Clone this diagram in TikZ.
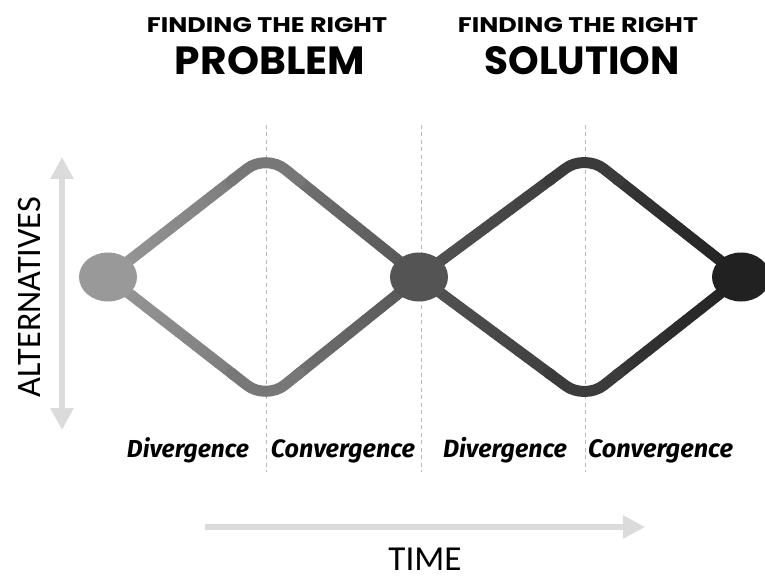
\documentclass[tikz,border=0pt]{standalone}
\usepackage{fontspec}
\setmainfont{Carlito}
\newfontfamily\headfont{Poppins}
\newfontfamily\labfont{Fira Sans}
\usetikzlibrary{calc,arrows.meta,shapes.geometric}
\pgfdeclarelayer{bg}
\pgfsetlayers{bg,main}
\begin{document}
\begin{tikzpicture}[x=1pt,y=-1pt,
  flow/.style={line width=11pt,line cap=round,line join=round},
  guide/.style={draw=black!28,line width=0.9pt,dash pattern=on 4pt off 3.5pt},
  axis/.style={draw=black!14,line width=6.5pt,-{Triangle[width=22pt,length=22pt]}},
  dot/.style={ellipse,minimum width=58pt,minimum height=49pt,inner sep=0pt},
  txt/.style={inner sep=0pt,anchor=base},
]
\useasboundingbox (0,0) rectangle (765,577);

% nodes
\node[dot,fill=black!40] (n1) at (108,277) {};
\node[dot,fill=black!67] (n2) at (419,277) {};
\node[dot,fill=black!87] (n3) at (741,277) {};
\coordinate (t1) at (266,154);
\coordinate (b1) at (266,400);
\coordinate (t2) at (585,154);
\coordinate (b2) at (585,400);

% guides and axes
\coordinate (g1a) at (266,125); \coordinate (g1b) at (266,472);
\coordinate (g2a) at (421,125); \coordinate (g2b) at (421,472);
\coordinate (g3a) at (585,125); \coordinate (g3b) at (585,472);
\coordinate (vA) at (62,293);
\coordinate (vT) at (62,157);
\coordinate (vB) at (62,430);
\coordinate (hA) at (205,527);
\coordinate (hB) at (645,527);
\begin{pgfonlayer}{bg}
\fill[white] (0,0) rectangle (765,577);
\draw[guide] (g1a) -- (g1b);
\draw[guide] (g2a) -- (g2b);
\draw[guide] (g3a) -- (g3b);
\draw[axis] (vA) -- (vT);
\draw[axis] (vA) -- (vB);
\draw[axis] (hA) -- (hB);
% gradient strokes
\foreach \A/\T/\Bn/\ga/\gt/\gb in {n1/t1/n2/0.60/0.465/0.33,n1/b1/n2/0.60/0.465/0.33,n2/t2/n3/0.33/0.23/0.13,n2/b2/n3/0.33/0.23/0.13}{
  \foreach \i in {0,...,15}{
    \pgfmathsetmacro\ta{\i/20}
    \pgfmathsetmacro\tb{(\i+1)/20}
    \pgfmathsetmacro\g{\ga+(\gt-\ga)*(\ta+\tb)/2}
    \definecolor{cc}{gray}{\g}
    \draw[flow,cc] ($(\A.center)!\ta!(\T)$) -- ($(\A.center)!\tb!(\T)$);
    \pgfmathsetmacro\h{\gb+(\gt-\gb)*(\ta+\tb)/2}
    \definecolor{cd}{gray}{\h}
    \draw[flow,cd] ($(\Bn.center)!\ta!(\T)$) -- ($(\Bn.center)!\tb!(\T)$);
  }
  \definecolor{ct}{gray}{\gt}
  \draw[flow,ct,rounded corners=24pt] ($(\A.center)!0.78!(\T)$) -- (\T) -- ($(\Bn.center)!0.78!(\T)$);
}
\end{pgfonlayer}

% headings
\node[txt] (h1) at (267,33) {\resizebox{240pt}{15pt}{\headfont\bfseries FINDING THE RIGHT}};
\node[txt] (h2) at (270,75) {\resizebox{190pt}{28pt}{\headfont\bfseries PROBLEM}};
\node[txt] (h3) at (578,33) {\resizebox{240pt}{15pt}{\headfont\bfseries FINDING THE RIGHT}};
\node[txt] (h4) at (582,75) {\resizebox{195pt}{28pt}{\headfont\bfseries SOLUTION}};

% phase labels
\node[txt] (l1) at (188,457) {\resizebox{122pt}{!}{\labfont\bfseries\itshape Divergence}};
\node[txt] (l2) at (343,457) {\resizebox{144pt}{!}{\labfont\bfseries\itshape Convergence}};
\node[txt] (l3) at (505,457) {\resizebox{124pt}{!}{\labfont\bfseries\itshape Divergence}};
\node[txt] (l4) at (660.5,457) {\resizebox{145pt}{!}{\labfont\bfseries\itshape Convergence}};

% axis labels
\node[txt] (time) at (425,570) {\resizebox{73pt}{!}{TIME}};
\node[txt,rotate=90] (alt) at (41,297) {\resizebox{200pt}{!}{ALTERNATIVES}};
\end{tikzpicture}
\end{document}
